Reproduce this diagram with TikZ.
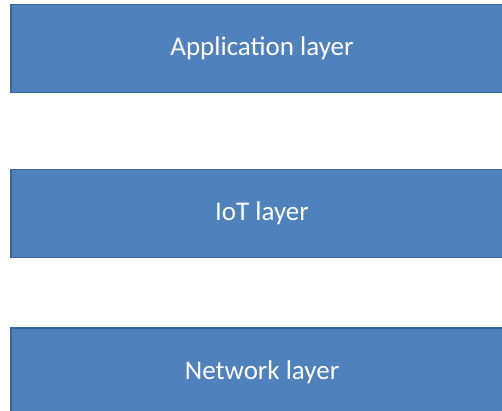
\documentclass[tikz,border=0pt]{standalone}
\usepackage{fontspec}
\setmainfont{Carlito}
\usetikzlibrary{positioning}
\definecolor{layerblue}{HTML}{4F81BD}
\definecolor{layeredge}{HTML}{3A6596}
\tikzstyle{layer} = [rectangle, draw=layeredge, line width=1.2pt, fill=layerblue,
    text=white, font=\fontsize{27}{32}\selectfont, minimum width=502pt, minimum height=88pt]

\begin{document}
\begin{tikzpicture}[x=1pt, y=1pt]
		\useasboundingbox (0,0) rectangle (502,410);
		\node [layer] (app) at (262,361.5) {Application layer};
		\node [layer, below=76pt of app] (iot) {IoT layer};
		\node [layer, below=69pt of iot] (net) {Network layer};
	\end{tikzpicture}
\end{document}
